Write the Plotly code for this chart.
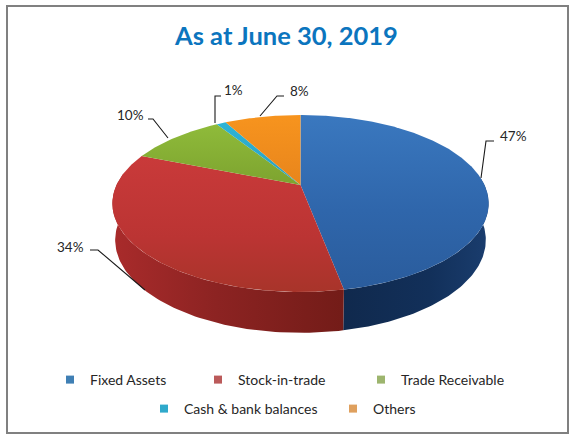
import numpy as np
import plotly.graph_objects as go

categories = ["Fixed Assets", "Stock-in-trade", "Trade Receivable", "Cash & bank balances", "Others"]
values = [47, 34, 10, 1, 8]
title_text = "As at June 30, 2019"
top_colors = [
    [[0, "#2a5c9c"], [0.45, "#2f66ab"], [1, "#3a78bf"]],
    [[0, "#a8342a"], [0.4, "#bb3433"], [1, "#c93a3a"]],
    [[0, "#7da32f"], [1, "#8fbb3a"]],
    [[0, "#2a9fc0"], [1, "#2db4d6"]],
    [[0, "#e8851c"], [1, "#f7941e"]],
]
wall_colors = {
    0: [[0, "#10294d"], [0.6, "#12305a"], [1, "#1a3d6e"]],
    1: [[0, "#a92b2b"], [0.45, "#8c2322"], [1, "#731c18"]],
}
wall_spans = {0: (85, None), 1: (None, 278)}
legend_colors = ["#3f7fb4", "#bb5a5a", "#9db56e", "#2fa9cb", "#dfa05e"]
legend_x = [50, 198, 361, 144, 333]
legend_y = [380, 380, 380, 409, 409]
label_pos = [(513, 136), (70, 247), (130, 115), (233, 90), (299, 91)]
leaders = [
    [(481, 178), (486, 141), (494, 141)],
    [(145, 290), (98, 250), (90, 250)],
    [(168, 138), (153, 119), (148, 119)],
    [(215, 123), (215, 96), (221, 96)],
    [(260, 116), (277, 96), (284, 96)],
]

W, H = 571, 435
CX, CY, A, B, K = 300.5, 185.0, 184.0, 84.6, 0.209
ELL_CY = 203.5


def top_xy(deg):
    t = np.radians(deg)
    u, v = np.sin(t), np.cos(t)
    w = 1 + K * v
    return CX + A * u / w, CY - B * v / w


def bottom_xy(deg):
    x, y = top_xy(deg)
    return CX + 0.985 * (x - CX), 240 + 1.05 * (y - ELL_CY)


fig = go.Figure()
edges = np.concatenate([[0], np.cumsum(values)]) / sum(values) * 360

# side walls
for i, cs in wall_colors.items():
    lo, hi = edges[i], edges[i + 1]
    s = wall_spans[i]
    lo = s[0] if s[0] is not None else lo
    hi = s[1] if s[1] is not None else hi
    a = np.linspace(lo, hi, 90)
    tx, ty = top_xy(a)
    bx, by = bottom_xy(a)
    fig.add_trace(go.Scatter(
        x=np.concatenate([tx, bx[::-1]]), y=np.concatenate([ty, by[::-1]]),
        mode="lines", line=dict(width=0), fill="toself",
        fillgradient=dict(type="horizontal", colorscale=cs),
        showlegend=False, hoverinfo="skip"))

# top faces
for i, cat in enumerate(categories):
    a = np.linspace(edges[i], edges[i + 1], max(6, int(edges[i + 1] - edges[i]) * 2))
    x, y = top_xy(a)
    fig.add_trace(go.Scatter(
        x=np.concatenate([[CX], x, [CX]]), y=np.concatenate([[CY], y, [CY]]),
        mode="lines", line=dict(width=0), fill="toself",
        fillgradient=dict(type="vertical", colorscale=top_colors[i]),
        showlegend=False, name=cat, hoverinfo="name"))

# leader lines
for pts in leaders:
    fig.add_trace(go.Scatter(x=[p[0] for p in pts], y=[p[1] for p in pts], mode="lines",
                             line=dict(color="#1a1a1a", width=1.1), showlegend=False, hoverinfo="skip"))

# legend entries, one positioned legend per category
legend_names = ["legend", "legend2", "legend3", "legend4", "legend5"]
for i, cat in enumerate(categories):
    fig.add_trace(go.Scatter(x=[None], y=[None], mode="markers", name=cat,
                             marker=dict(symbol="square", size=8, color=legend_colors[i]),
                             legend=legend_names[i], showlegend=True))

annos = [dict(x=p[0], y=p[1], xref="x", yref="y", text=f"{v}%", showarrow=False,
              font=dict(size=13.5, color="#262626"))
         for p, v in zip(label_pos, values)]
annos.append(dict(x=286, y=35, xref="x", yref="y", text=f"<b>{title_text}</b>", showarrow=False,
                  font=dict(size=25.5, color="#0b75be")))

legend_layout = {
    name: dict(orientation="h", xanchor="left", yanchor="middle",
               x=legend_x[i] / W, y=1 - legend_y[i] / H,
               bgcolor="rgba(0,0,0,0)", font=dict(size=14, color="#262626"), itemwidth=30)
    for i, name in enumerate(legend_names)
}
fig.update_layout(
    width=W, height=H, margin=dict(l=0, r=0, t=0, b=0, autoexpand=False),
    paper_bgcolor="white", plot_bgcolor="white", font=dict(family="Lato"),
    xaxis=dict(range=[0, W], visible=False, fixedrange=True),
    yaxis=dict(range=[H, 0], visible=False, fixedrange=True),
    annotations=annos,
    shapes=[dict(type="rect", xref="x", yref="y", x0=7, y0=6, x1=568, y1=433,
                 line=dict(color="#808080", width=2))],
    **legend_layout,
)
fig.write_html("out.html", config={"displayModeBar": False},
               post_script="document.body.style.margin='0';document.documentElement.style.overflow='hidden';")
